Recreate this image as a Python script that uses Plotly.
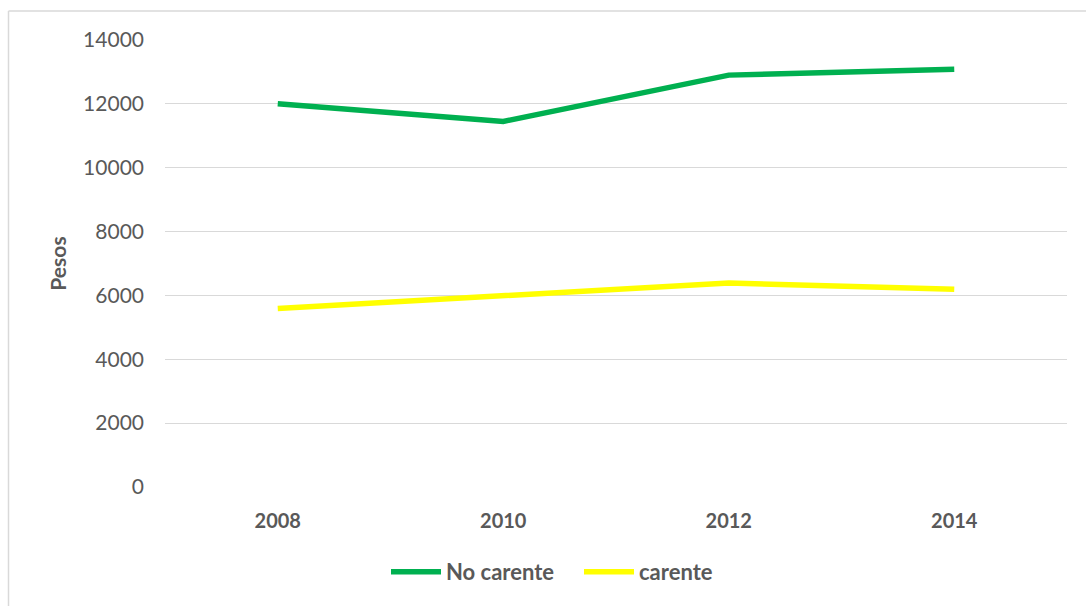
import plotly.graph_objects as go

years = ["2008", "2010", "2012", "2014"]
no_carente = [12000, 11450, 12900, 13080]
carente = [5590, 5970, 6390, 6190]
y_ticks = [0, 2000, 4000, 6000, 8000, 10000, 12000, 14000]

W, H = 1086, 606
L, R, T, B = 165, 19, 40, 119
pw, ph = W - L - R, H - T - B

def px(x):
    return (x - L) / pw

def py(y):
    return (H - B - y) / ph

text_color = "#595959"
font_family = "Lato, 'Open Sans', sans-serif"

fig = go.Figure()
fig.add_trace(go.Scatter(
    x=years, y=no_carente, name="No carente", mode="lines",
    line=dict(color="#00B050", width=5.5),
))
fig.add_trace(go.Scatter(
    x=years, y=carente, name="carente", mode="lines",
    line=dict(color="#FFFF00", width=5.5),
))

fig.update_layout(
    width=W, height=H,
    margin=dict(l=L, r=R, t=T, b=B),
    paper_bgcolor="white", plot_bgcolor="white",
    font=dict(family=font_family, color=text_color),
    showlegend=True,
    legend=dict(
        orientation="h", x=px(579), xanchor="center", y=py(572), yanchor="middle",
        font=dict(size=22, color=text_color, family=font_family, weight="bold"),
        itemwidth=50, traceorder="normal",
        entrywidth=128, entrywidthmode="pixels",
    ),
    xaxis=dict(
        type="category", range=[-0.5, 3.5], showgrid=False, zeroline=False,
        showline=False, ticks="", ticklabelstandoff=20,
        tickfont=dict(size=20, color=text_color, family=font_family, weight="bold"),
    ),
    yaxis=dict(
        range=[0, 14000], tickvals=y_ticks, ticktext=[str(v) for v in y_ticks],
        showgrid=True, gridcolor="#d9d9d9", gridwidth=1, zeroline=False,
        showline=False, ticks="", ticklabelstandoff=20,
        tickfont=dict(size=21, color=text_color, family=font_family),
        title=dict(text="Pesos", standoff=10,
                   font=dict(size=21, color=text_color, family=font_family, weight="bold")),
    ),
    shapes=[
        dict(type="line", xref="paper", yref="paper",
             x0=px(8.5), x1=px(1090), y0=py(11), y1=py(11),
             line=dict(color="#d9d9d9", width=1.5)),
        dict(type="line", xref="paper", yref="paper",
             x0=px(8.5), x1=px(8.5), y0=py(11), y1=py(610),
             line=dict(color="#d9d9d9", width=1.5)),
    ],
)

fig.write_html("out.html")
